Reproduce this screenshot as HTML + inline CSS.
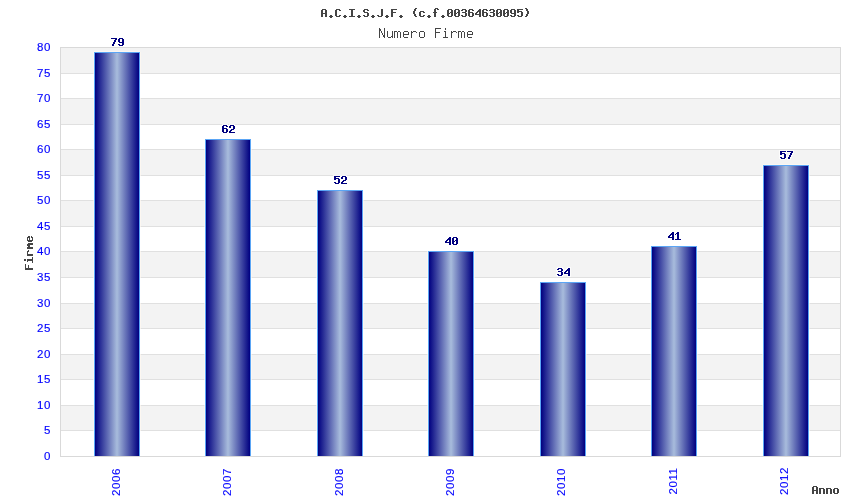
<!DOCTYPE html>
<html><head><meta charset="utf-8"><style>
html,body{margin:0;padding:0;background:#fff;}
body{width:850px;height:500px;overflow:hidden;position:relative;}
svg{position:absolute;left:0;top:0;}
.t{position:absolute;white-space:pre;line-height:1;}
.sans{font-family:"Liberation Sans",sans-serif;will-change:transform;color:#00f;-webkit-text-stroke:0.15px #00f;}
</style></head><body>
<svg width="850" height="500" viewBox="0 0 850 500" shape-rendering="crispEdges">
<defs><linearGradient id="g" x1="0" y1="0" x2="1" y2="0">
<stop offset="0" stop-color="#000080"/><stop offset="0.5" stop-color="#a8bcdc"/><stop offset="1" stop-color="#000080"/>
</linearGradient></defs>
<rect x="0" y="0" width="850" height="500" fill="#fff"/>
<rect x="61" y="405" width="779" height="25" fill="#f3f3f3"/>
<rect x="61" y="354" width="779" height="25" fill="#f3f3f3"/>
<rect x="61" y="303" width="779" height="25" fill="#f3f3f3"/>
<rect x="61" y="251" width="779" height="26" fill="#f3f3f3"/>
<rect x="61" y="200" width="779" height="26" fill="#f3f3f3"/>
<rect x="61" y="149" width="779" height="26" fill="#f3f3f3"/>
<rect x="61" y="98" width="779" height="26" fill="#f3f3f3"/>
<rect x="61" y="47" width="779" height="26" fill="#f3f3f3"/>
<rect x="61" y="430" width="779" height="1" fill="#e0e0e0"/>
<rect x="61" y="405" width="779" height="1" fill="#e0e0e0"/>
<rect x="61" y="379" width="779" height="1" fill="#e0e0e0"/>
<rect x="61" y="354" width="779" height="1" fill="#e0e0e0"/>
<rect x="61" y="328" width="779" height="1" fill="#e0e0e0"/>
<rect x="61" y="303" width="779" height="1" fill="#e0e0e0"/>
<rect x="61" y="277" width="779" height="1" fill="#e0e0e0"/>
<rect x="61" y="251" width="779" height="1" fill="#e0e0e0"/>
<rect x="61" y="226" width="779" height="1" fill="#e0e0e0"/>
<rect x="61" y="200" width="779" height="1" fill="#e0e0e0"/>
<rect x="61" y="175" width="779" height="1" fill="#e0e0e0"/>
<rect x="61" y="149" width="779" height="1" fill="#e0e0e0"/>
<rect x="61" y="124" width="779" height="1" fill="#e0e0e0"/>
<rect x="61" y="98" width="779" height="1" fill="#e0e0e0"/>
<rect x="61" y="73" width="779" height="1" fill="#e0e0e0"/>
<rect x="60" y="47" width="781" height="1" fill="#d9d9d9"/>
<rect x="60" y="456" width="781" height="1" fill="#d9d9d9"/>
<rect x="60" y="47" width="1" height="410" fill="#d9d9d9"/>
<rect x="840" y="47" width="1" height="410" fill="#d9d9d9"/>
<path fill="#fcf7f1" d="M94 51h46v1h-46zM93 52h1v1h-1zM140 52h1v1h-1zM93 53h1v1h-1zM140 53h1v1h-1zM93 54h1v1h-1zM140 54h1v1h-1zM93 55h1v1h-1zM140 55h1v1h-1zM93 56h1v1h-1zM140 56h1v1h-1zM93 57h1v1h-1zM140 57h1v1h-1zM93 58h1v1h-1zM140 58h1v1h-1zM93 59h1v1h-1zM140 59h1v1h-1zM93 60h1v1h-1zM140 60h1v1h-1zM93 61h1v1h-1zM140 61h1v1h-1zM93 62h1v1h-1zM140 62h1v1h-1zM93 63h1v1h-1zM140 63h1v1h-1zM93 64h1v1h-1zM140 64h1v1h-1zM93 65h1v1h-1zM140 65h1v1h-1zM93 66h1v1h-1zM140 66h1v1h-1zM93 67h1v1h-1zM140 67h1v1h-1zM93 68h1v1h-1zM140 68h1v1h-1zM93 69h1v1h-1zM140 69h1v1h-1zM93 70h1v1h-1zM140 70h1v1h-1zM93 71h1v1h-1zM140 71h1v1h-1zM93 72h1v1h-1zM140 72h1v1h-1zM93 99h1v1h-1zM140 99h1v1h-1zM93 100h1v1h-1zM140 100h1v1h-1zM93 101h1v1h-1zM140 101h1v1h-1zM93 102h1v1h-1zM140 102h1v1h-1zM93 103h1v1h-1zM140 103h1v1h-1zM93 104h1v1h-1zM140 104h1v1h-1zM93 105h1v1h-1zM140 105h1v1h-1zM93 106h1v1h-1zM140 106h1v1h-1zM93 107h1v1h-1zM140 107h1v1h-1zM93 108h1v1h-1zM140 108h1v1h-1zM93 109h1v1h-1zM140 109h1v1h-1zM93 110h1v1h-1zM140 110h1v1h-1zM93 111h1v1h-1zM140 111h1v1h-1zM93 112h1v1h-1zM140 112h1v1h-1zM93 113h1v1h-1zM140 113h1v1h-1zM93 114h1v1h-1zM140 114h1v1h-1zM93 115h1v1h-1zM140 115h1v1h-1zM93 116h1v1h-1zM140 116h1v1h-1zM93 117h1v1h-1zM140 117h1v1h-1zM93 118h1v1h-1zM140 118h1v1h-1zM93 119h1v1h-1zM140 119h1v1h-1zM93 120h1v1h-1zM140 120h1v1h-1zM93 121h1v1h-1zM140 121h1v1h-1zM93 122h1v1h-1zM140 122h1v1h-1zM93 123h1v1h-1zM140 123h1v1h-1zM93 150h1v1h-1zM140 150h1v1h-1zM93 151h1v1h-1zM140 151h1v1h-1zM93 152h1v1h-1zM140 152h1v1h-1zM93 153h1v1h-1zM140 153h1v1h-1zM93 154h1v1h-1zM140 154h1v1h-1zM93 155h1v1h-1zM140 155h1v1h-1zM93 156h1v1h-1zM140 156h1v1h-1zM93 157h1v1h-1zM140 157h1v1h-1zM93 158h1v1h-1zM140 158h1v1h-1zM93 159h1v1h-1zM140 159h1v1h-1zM93 160h1v1h-1zM140 160h1v1h-1zM93 161h1v1h-1zM140 161h1v1h-1zM93 162h1v1h-1zM140 162h1v1h-1zM93 163h1v1h-1zM140 163h1v1h-1zM93 164h1v1h-1zM140 164h1v1h-1zM93 165h1v1h-1zM140 165h1v1h-1zM93 166h1v1h-1zM140 166h1v1h-1zM93 167h1v1h-1zM140 167h1v1h-1zM93 168h1v1h-1zM140 168h1v1h-1zM93 169h1v1h-1zM140 169h1v1h-1zM93 170h1v1h-1zM140 170h1v1h-1zM93 171h1v1h-1zM140 171h1v1h-1zM93 172h1v1h-1zM140 172h1v1h-1zM93 173h1v1h-1zM140 173h1v1h-1zM93 174h1v1h-1zM140 174h1v1h-1zM93 201h1v1h-1zM140 201h1v1h-1zM93 202h1v1h-1zM140 202h1v1h-1zM93 203h1v1h-1zM140 203h1v1h-1zM93 204h1v1h-1zM140 204h1v1h-1zM93 205h1v1h-1zM140 205h1v1h-1zM93 206h1v1h-1zM140 206h1v1h-1zM93 207h1v1h-1zM140 207h1v1h-1zM93 208h1v1h-1zM140 208h1v1h-1zM93 209h1v1h-1zM140 209h1v1h-1zM93 210h1v1h-1zM140 210h1v1h-1zM93 211h1v1h-1zM140 211h1v1h-1zM93 212h1v1h-1zM140 212h1v1h-1zM93 213h1v1h-1zM140 213h1v1h-1zM93 214h1v1h-1zM140 214h1v1h-1zM93 215h1v1h-1zM140 215h1v1h-1zM93 216h1v1h-1zM140 216h1v1h-1zM93 217h1v1h-1zM140 217h1v1h-1zM93 218h1v1h-1zM140 218h1v1h-1zM93 219h1v1h-1zM140 219h1v1h-1zM93 220h1v1h-1zM140 220h1v1h-1zM93 221h1v1h-1zM140 221h1v1h-1zM93 222h1v1h-1zM140 222h1v1h-1zM93 223h1v1h-1zM140 223h1v1h-1zM93 224h1v1h-1zM140 224h1v1h-1zM93 225h1v1h-1zM140 225h1v1h-1zM93 252h1v1h-1zM140 252h1v1h-1zM93 253h1v1h-1zM140 253h1v1h-1zM93 254h1v1h-1zM140 254h1v1h-1zM93 255h1v1h-1zM140 255h1v1h-1zM93 256h1v1h-1zM140 256h1v1h-1zM93 257h1v1h-1zM140 257h1v1h-1zM93 258h1v1h-1zM140 258h1v1h-1zM93 259h1v1h-1zM140 259h1v1h-1zM93 260h1v1h-1zM140 260h1v1h-1zM93 261h1v1h-1zM140 261h1v1h-1zM93 262h1v1h-1zM140 262h1v1h-1zM93 263h1v1h-1zM140 263h1v1h-1zM93 264h1v1h-1zM140 264h1v1h-1zM93 265h1v1h-1zM140 265h1v1h-1zM93 266h1v1h-1zM140 266h1v1h-1zM93 267h1v1h-1zM140 267h1v1h-1zM93 268h1v1h-1zM140 268h1v1h-1zM93 269h1v1h-1zM140 269h1v1h-1zM93 270h1v1h-1zM140 270h1v1h-1zM93 271h1v1h-1zM140 271h1v1h-1zM93 272h1v1h-1zM140 272h1v1h-1zM93 273h1v1h-1zM140 273h1v1h-1zM93 274h1v1h-1zM140 274h1v1h-1zM93 275h1v1h-1zM140 275h1v1h-1zM93 276h1v1h-1zM140 276h1v1h-1zM93 304h1v1h-1zM140 304h1v1h-1zM93 305h1v1h-1zM140 305h1v1h-1zM93 306h1v1h-1zM140 306h1v1h-1zM93 307h1v1h-1zM140 307h1v1h-1zM93 308h1v1h-1zM140 308h1v1h-1zM93 309h1v1h-1zM140 309h1v1h-1zM93 310h1v1h-1zM140 310h1v1h-1zM93 311h1v1h-1zM140 311h1v1h-1zM93 312h1v1h-1zM140 312h1v1h-1zM93 313h1v1h-1zM140 313h1v1h-1zM93 314h1v1h-1zM140 314h1v1h-1zM93 315h1v1h-1zM140 315h1v1h-1zM93 316h1v1h-1zM140 316h1v1h-1zM93 317h1v1h-1zM140 317h1v1h-1zM93 318h1v1h-1zM140 318h1v1h-1zM93 319h1v1h-1zM140 319h1v1h-1zM93 320h1v1h-1zM140 320h1v1h-1zM93 321h1v1h-1zM140 321h1v1h-1zM93 322h1v1h-1zM140 322h1v1h-1zM93 323h1v1h-1zM140 323h1v1h-1zM93 324h1v1h-1zM140 324h1v1h-1zM93 325h1v1h-1zM140 325h1v1h-1zM93 326h1v1h-1zM140 326h1v1h-1zM93 327h1v1h-1zM140 327h1v1h-1zM93 355h1v1h-1zM140 355h1v1h-1zM93 356h1v1h-1zM140 356h1v1h-1zM93 357h1v1h-1zM140 357h1v1h-1zM93 358h1v1h-1zM140 358h1v1h-1zM93 359h1v1h-1zM140 359h1v1h-1zM93 360h1v1h-1zM140 360h1v1h-1zM93 361h1v1h-1zM140 361h1v1h-1zM93 362h1v1h-1zM140 362h1v1h-1zM93 363h1v1h-1zM140 363h1v1h-1zM93 364h1v1h-1zM140 364h1v1h-1zM93 365h1v1h-1zM140 365h1v1h-1zM93 366h1v1h-1zM140 366h1v1h-1zM93 367h1v1h-1zM140 367h1v1h-1zM93 368h1v1h-1zM140 368h1v1h-1zM93 369h1v1h-1zM140 369h1v1h-1zM93 370h1v1h-1zM140 370h1v1h-1zM93 371h1v1h-1zM140 371h1v1h-1zM93 372h1v1h-1zM140 372h1v1h-1zM93 373h1v1h-1zM140 373h1v1h-1zM93 374h1v1h-1zM140 374h1v1h-1zM93 375h1v1h-1zM140 375h1v1h-1zM93 376h1v1h-1zM140 376h1v1h-1zM93 377h1v1h-1zM140 377h1v1h-1zM93 378h1v1h-1zM140 378h1v1h-1zM93 406h1v1h-1zM140 406h1v1h-1zM93 407h1v1h-1zM140 407h1v1h-1zM93 408h1v1h-1zM140 408h1v1h-1zM93 409h1v1h-1zM140 409h1v1h-1zM93 410h1v1h-1zM140 410h1v1h-1zM93 411h1v1h-1zM140 411h1v1h-1zM93 412h1v1h-1zM140 412h1v1h-1zM93 413h1v1h-1zM140 413h1v1h-1zM93 414h1v1h-1zM140 414h1v1h-1zM93 415h1v1h-1zM140 415h1v1h-1zM93 416h1v1h-1zM140 416h1v1h-1zM93 417h1v1h-1zM140 417h1v1h-1zM93 418h1v1h-1zM140 418h1v1h-1zM93 419h1v1h-1zM140 419h1v1h-1zM93 420h1v1h-1zM140 420h1v1h-1zM93 421h1v1h-1zM140 421h1v1h-1zM93 422h1v1h-1zM140 422h1v1h-1zM93 423h1v1h-1zM140 423h1v1h-1zM93 424h1v1h-1zM140 424h1v1h-1zM93 425h1v1h-1zM140 425h1v1h-1zM93 426h1v1h-1zM140 426h1v1h-1zM93 427h1v1h-1zM140 427h1v1h-1zM93 428h1v1h-1zM140 428h1v1h-1zM93 429h1v1h-1zM140 429h1v1h-1z"/>
<path fill="#f5f1ec" d="M93 73h1v1h-1zM140 73h1v1h-1zM93 98h1v1h-1zM140 98h1v1h-1zM93 124h1v1h-1zM140 124h1v1h-1zM93 149h1v1h-1zM140 149h1v1h-1zM93 175h1v1h-1zM140 175h1v1h-1zM93 200h1v1h-1zM140 200h1v1h-1zM93 226h1v1h-1zM140 226h1v1h-1zM93 251h1v1h-1zM140 251h1v1h-1zM93 277h1v1h-1zM140 277h1v1h-1zM93 303h1v1h-1zM140 303h1v1h-1zM93 328h1v1h-1zM140 328h1v1h-1zM93 354h1v1h-1zM140 354h1v1h-1zM93 379h1v1h-1zM140 379h1v1h-1zM93 405h1v1h-1zM140 405h1v1h-1zM93 430h1v1h-1zM140 430h1v1h-1z"/>
<rect x="94" y="52" width="46" height="404" fill="#5aa5f5"/>
<rect x="95" y="53" width="44" height="403" fill="url(#g)"/>
<path fill="#fcf7f1" d="M204 150h1v1h-1zM251 150h1v1h-1zM204 151h1v1h-1zM251 151h1v1h-1zM204 152h1v1h-1zM251 152h1v1h-1zM204 153h1v1h-1zM251 153h1v1h-1zM204 154h1v1h-1zM251 154h1v1h-1zM204 155h1v1h-1zM251 155h1v1h-1zM204 156h1v1h-1zM251 156h1v1h-1zM204 157h1v1h-1zM251 157h1v1h-1zM204 158h1v1h-1zM251 158h1v1h-1zM204 159h1v1h-1zM251 159h1v1h-1zM204 160h1v1h-1zM251 160h1v1h-1zM204 161h1v1h-1zM251 161h1v1h-1zM204 162h1v1h-1zM251 162h1v1h-1zM204 163h1v1h-1zM251 163h1v1h-1zM204 164h1v1h-1zM251 164h1v1h-1zM204 165h1v1h-1zM251 165h1v1h-1zM204 166h1v1h-1zM251 166h1v1h-1zM204 167h1v1h-1zM251 167h1v1h-1zM204 168h1v1h-1zM251 168h1v1h-1zM204 169h1v1h-1zM251 169h1v1h-1zM204 170h1v1h-1zM251 170h1v1h-1zM204 171h1v1h-1zM251 171h1v1h-1zM204 172h1v1h-1zM251 172h1v1h-1zM204 173h1v1h-1zM251 173h1v1h-1zM204 174h1v1h-1zM251 174h1v1h-1zM204 201h1v1h-1zM251 201h1v1h-1zM204 202h1v1h-1zM251 202h1v1h-1zM204 203h1v1h-1zM251 203h1v1h-1zM204 204h1v1h-1zM251 204h1v1h-1zM204 205h1v1h-1zM251 205h1v1h-1zM204 206h1v1h-1zM251 206h1v1h-1zM204 207h1v1h-1zM251 207h1v1h-1zM204 208h1v1h-1zM251 208h1v1h-1zM204 209h1v1h-1zM251 209h1v1h-1zM204 210h1v1h-1zM251 210h1v1h-1zM204 211h1v1h-1zM251 211h1v1h-1zM204 212h1v1h-1zM251 212h1v1h-1zM204 213h1v1h-1zM251 213h1v1h-1zM204 214h1v1h-1zM251 214h1v1h-1zM204 215h1v1h-1zM251 215h1v1h-1zM204 216h1v1h-1zM251 216h1v1h-1zM204 217h1v1h-1zM251 217h1v1h-1zM204 218h1v1h-1zM251 218h1v1h-1zM204 219h1v1h-1zM251 219h1v1h-1zM204 220h1v1h-1zM251 220h1v1h-1zM204 221h1v1h-1zM251 221h1v1h-1zM204 222h1v1h-1zM251 222h1v1h-1zM204 223h1v1h-1zM251 223h1v1h-1zM204 224h1v1h-1zM251 224h1v1h-1zM204 225h1v1h-1zM251 225h1v1h-1zM204 252h1v1h-1zM251 252h1v1h-1zM204 253h1v1h-1zM251 253h1v1h-1zM204 254h1v1h-1zM251 254h1v1h-1zM204 255h1v1h-1zM251 255h1v1h-1zM204 256h1v1h-1zM251 256h1v1h-1zM204 257h1v1h-1zM251 257h1v1h-1zM204 258h1v1h-1zM251 258h1v1h-1zM204 259h1v1h-1zM251 259h1v1h-1zM204 260h1v1h-1zM251 260h1v1h-1zM204 261h1v1h-1zM251 261h1v1h-1zM204 262h1v1h-1zM251 262h1v1h-1zM204 263h1v1h-1zM251 263h1v1h-1zM204 264h1v1h-1zM251 264h1v1h-1zM204 265h1v1h-1zM251 265h1v1h-1zM204 266h1v1h-1zM251 266h1v1h-1zM204 267h1v1h-1zM251 267h1v1h-1zM204 268h1v1h-1zM251 268h1v1h-1zM204 269h1v1h-1zM251 269h1v1h-1zM204 270h1v1h-1zM251 270h1v1h-1zM204 271h1v1h-1zM251 271h1v1h-1zM204 272h1v1h-1zM251 272h1v1h-1zM204 273h1v1h-1zM251 273h1v1h-1zM204 274h1v1h-1zM251 274h1v1h-1zM204 275h1v1h-1zM251 275h1v1h-1zM204 276h1v1h-1zM251 276h1v1h-1zM204 304h1v1h-1zM251 304h1v1h-1zM204 305h1v1h-1zM251 305h1v1h-1zM204 306h1v1h-1zM251 306h1v1h-1zM204 307h1v1h-1zM251 307h1v1h-1zM204 308h1v1h-1zM251 308h1v1h-1zM204 309h1v1h-1zM251 309h1v1h-1zM204 310h1v1h-1zM251 310h1v1h-1zM204 311h1v1h-1zM251 311h1v1h-1zM204 312h1v1h-1zM251 312h1v1h-1zM204 313h1v1h-1zM251 313h1v1h-1zM204 314h1v1h-1zM251 314h1v1h-1zM204 315h1v1h-1zM251 315h1v1h-1zM204 316h1v1h-1zM251 316h1v1h-1zM204 317h1v1h-1zM251 317h1v1h-1zM204 318h1v1h-1zM251 318h1v1h-1zM204 319h1v1h-1zM251 319h1v1h-1zM204 320h1v1h-1zM251 320h1v1h-1zM204 321h1v1h-1zM251 321h1v1h-1zM204 322h1v1h-1zM251 322h1v1h-1zM204 323h1v1h-1zM251 323h1v1h-1zM204 324h1v1h-1zM251 324h1v1h-1zM204 325h1v1h-1zM251 325h1v1h-1zM204 326h1v1h-1zM251 326h1v1h-1zM204 327h1v1h-1zM251 327h1v1h-1zM204 355h1v1h-1zM251 355h1v1h-1zM204 356h1v1h-1zM251 356h1v1h-1zM204 357h1v1h-1zM251 357h1v1h-1zM204 358h1v1h-1zM251 358h1v1h-1zM204 359h1v1h-1zM251 359h1v1h-1zM204 360h1v1h-1zM251 360h1v1h-1zM204 361h1v1h-1zM251 361h1v1h-1zM204 362h1v1h-1zM251 362h1v1h-1zM204 363h1v1h-1zM251 363h1v1h-1zM204 364h1v1h-1zM251 364h1v1h-1zM204 365h1v1h-1zM251 365h1v1h-1zM204 366h1v1h-1zM251 366h1v1h-1zM204 367h1v1h-1zM251 367h1v1h-1zM204 368h1v1h-1zM251 368h1v1h-1zM204 369h1v1h-1zM251 369h1v1h-1zM204 370h1v1h-1zM251 370h1v1h-1zM204 371h1v1h-1zM251 371h1v1h-1zM204 372h1v1h-1zM251 372h1v1h-1zM204 373h1v1h-1zM251 373h1v1h-1zM204 374h1v1h-1zM251 374h1v1h-1zM204 375h1v1h-1zM251 375h1v1h-1zM204 376h1v1h-1zM251 376h1v1h-1zM204 377h1v1h-1zM251 377h1v1h-1zM204 378h1v1h-1zM251 378h1v1h-1zM204 406h1v1h-1zM251 406h1v1h-1zM204 407h1v1h-1zM251 407h1v1h-1zM204 408h1v1h-1zM251 408h1v1h-1zM204 409h1v1h-1zM251 409h1v1h-1zM204 410h1v1h-1zM251 410h1v1h-1zM204 411h1v1h-1zM251 411h1v1h-1zM204 412h1v1h-1zM251 412h1v1h-1zM204 413h1v1h-1zM251 413h1v1h-1zM204 414h1v1h-1zM251 414h1v1h-1zM204 415h1v1h-1zM251 415h1v1h-1zM204 416h1v1h-1zM251 416h1v1h-1zM204 417h1v1h-1zM251 417h1v1h-1zM204 418h1v1h-1zM251 418h1v1h-1zM204 419h1v1h-1zM251 419h1v1h-1zM204 420h1v1h-1zM251 420h1v1h-1zM204 421h1v1h-1zM251 421h1v1h-1zM204 422h1v1h-1zM251 422h1v1h-1zM204 423h1v1h-1zM251 423h1v1h-1zM204 424h1v1h-1zM251 424h1v1h-1zM204 425h1v1h-1zM251 425h1v1h-1zM204 426h1v1h-1zM251 426h1v1h-1zM204 427h1v1h-1zM251 427h1v1h-1zM204 428h1v1h-1zM251 428h1v1h-1zM204 429h1v1h-1zM251 429h1v1h-1z"/>
<path fill="#f5f1ec" d="M204 149h1v1h-1zM251 149h1v1h-1zM204 175h1v1h-1zM251 175h1v1h-1zM204 200h1v1h-1zM251 200h1v1h-1zM204 226h1v1h-1zM251 226h1v1h-1zM204 251h1v1h-1zM251 251h1v1h-1zM204 277h1v1h-1zM251 277h1v1h-1zM204 303h1v1h-1zM251 303h1v1h-1zM204 328h1v1h-1zM251 328h1v1h-1zM204 354h1v1h-1zM251 354h1v1h-1zM204 379h1v1h-1zM251 379h1v1h-1zM204 405h1v1h-1zM251 405h1v1h-1zM204 430h1v1h-1zM251 430h1v1h-1z"/>
<rect x="205" y="139" width="46" height="317" fill="#5aa5f5"/>
<rect x="206" y="140" width="44" height="316" fill="url(#g)"/>
<path fill="#fcf7f1" d="M316 201h1v1h-1zM363 201h1v1h-1zM316 202h1v1h-1zM363 202h1v1h-1zM316 203h1v1h-1zM363 203h1v1h-1zM316 204h1v1h-1zM363 204h1v1h-1zM316 205h1v1h-1zM363 205h1v1h-1zM316 206h1v1h-1zM363 206h1v1h-1zM316 207h1v1h-1zM363 207h1v1h-1zM316 208h1v1h-1zM363 208h1v1h-1zM316 209h1v1h-1zM363 209h1v1h-1zM316 210h1v1h-1zM363 210h1v1h-1zM316 211h1v1h-1zM363 211h1v1h-1zM316 212h1v1h-1zM363 212h1v1h-1zM316 213h1v1h-1zM363 213h1v1h-1zM316 214h1v1h-1zM363 214h1v1h-1zM316 215h1v1h-1zM363 215h1v1h-1zM316 216h1v1h-1zM363 216h1v1h-1zM316 217h1v1h-1zM363 217h1v1h-1zM316 218h1v1h-1zM363 218h1v1h-1zM316 219h1v1h-1zM363 219h1v1h-1zM316 220h1v1h-1zM363 220h1v1h-1zM316 221h1v1h-1zM363 221h1v1h-1zM316 222h1v1h-1zM363 222h1v1h-1zM316 223h1v1h-1zM363 223h1v1h-1zM316 224h1v1h-1zM363 224h1v1h-1zM316 225h1v1h-1zM363 225h1v1h-1zM316 252h1v1h-1zM363 252h1v1h-1zM316 253h1v1h-1zM363 253h1v1h-1zM316 254h1v1h-1zM363 254h1v1h-1zM316 255h1v1h-1zM363 255h1v1h-1zM316 256h1v1h-1zM363 256h1v1h-1zM316 257h1v1h-1zM363 257h1v1h-1zM316 258h1v1h-1zM363 258h1v1h-1zM316 259h1v1h-1zM363 259h1v1h-1zM316 260h1v1h-1zM363 260h1v1h-1zM316 261h1v1h-1zM363 261h1v1h-1zM316 262h1v1h-1zM363 262h1v1h-1zM316 263h1v1h-1zM363 263h1v1h-1zM316 264h1v1h-1zM363 264h1v1h-1zM316 265h1v1h-1zM363 265h1v1h-1zM316 266h1v1h-1zM363 266h1v1h-1zM316 267h1v1h-1zM363 267h1v1h-1zM316 268h1v1h-1zM363 268h1v1h-1zM316 269h1v1h-1zM363 269h1v1h-1zM316 270h1v1h-1zM363 270h1v1h-1zM316 271h1v1h-1zM363 271h1v1h-1zM316 272h1v1h-1zM363 272h1v1h-1zM316 273h1v1h-1zM363 273h1v1h-1zM316 274h1v1h-1zM363 274h1v1h-1zM316 275h1v1h-1zM363 275h1v1h-1zM316 276h1v1h-1zM363 276h1v1h-1zM316 304h1v1h-1zM363 304h1v1h-1zM316 305h1v1h-1zM363 305h1v1h-1zM316 306h1v1h-1zM363 306h1v1h-1zM316 307h1v1h-1zM363 307h1v1h-1zM316 308h1v1h-1zM363 308h1v1h-1zM316 309h1v1h-1zM363 309h1v1h-1zM316 310h1v1h-1zM363 310h1v1h-1zM316 311h1v1h-1zM363 311h1v1h-1zM316 312h1v1h-1zM363 312h1v1h-1zM316 313h1v1h-1zM363 313h1v1h-1zM316 314h1v1h-1zM363 314h1v1h-1zM316 315h1v1h-1zM363 315h1v1h-1zM316 316h1v1h-1zM363 316h1v1h-1zM316 317h1v1h-1zM363 317h1v1h-1zM316 318h1v1h-1zM363 318h1v1h-1zM316 319h1v1h-1zM363 319h1v1h-1zM316 320h1v1h-1zM363 320h1v1h-1zM316 321h1v1h-1zM363 321h1v1h-1zM316 322h1v1h-1zM363 322h1v1h-1zM316 323h1v1h-1zM363 323h1v1h-1zM316 324h1v1h-1zM363 324h1v1h-1zM316 325h1v1h-1zM363 325h1v1h-1zM316 326h1v1h-1zM363 326h1v1h-1zM316 327h1v1h-1zM363 327h1v1h-1zM316 355h1v1h-1zM363 355h1v1h-1zM316 356h1v1h-1zM363 356h1v1h-1zM316 357h1v1h-1zM363 357h1v1h-1zM316 358h1v1h-1zM363 358h1v1h-1zM316 359h1v1h-1zM363 359h1v1h-1zM316 360h1v1h-1zM363 360h1v1h-1zM316 361h1v1h-1zM363 361h1v1h-1zM316 362h1v1h-1zM363 362h1v1h-1zM316 363h1v1h-1zM363 363h1v1h-1zM316 364h1v1h-1zM363 364h1v1h-1zM316 365h1v1h-1zM363 365h1v1h-1zM316 366h1v1h-1zM363 366h1v1h-1zM316 367h1v1h-1zM363 367h1v1h-1zM316 368h1v1h-1zM363 368h1v1h-1zM316 369h1v1h-1zM363 369h1v1h-1zM316 370h1v1h-1zM363 370h1v1h-1zM316 371h1v1h-1zM363 371h1v1h-1zM316 372h1v1h-1zM363 372h1v1h-1zM316 373h1v1h-1zM363 373h1v1h-1zM316 374h1v1h-1zM363 374h1v1h-1zM316 375h1v1h-1zM363 375h1v1h-1zM316 376h1v1h-1zM363 376h1v1h-1zM316 377h1v1h-1zM363 377h1v1h-1zM316 378h1v1h-1zM363 378h1v1h-1zM316 406h1v1h-1zM363 406h1v1h-1zM316 407h1v1h-1zM363 407h1v1h-1zM316 408h1v1h-1zM363 408h1v1h-1zM316 409h1v1h-1zM363 409h1v1h-1zM316 410h1v1h-1zM363 410h1v1h-1zM316 411h1v1h-1zM363 411h1v1h-1zM316 412h1v1h-1zM363 412h1v1h-1zM316 413h1v1h-1zM363 413h1v1h-1zM316 414h1v1h-1zM363 414h1v1h-1zM316 415h1v1h-1zM363 415h1v1h-1zM316 416h1v1h-1zM363 416h1v1h-1zM316 417h1v1h-1zM363 417h1v1h-1zM316 418h1v1h-1zM363 418h1v1h-1zM316 419h1v1h-1zM363 419h1v1h-1zM316 420h1v1h-1zM363 420h1v1h-1zM316 421h1v1h-1zM363 421h1v1h-1zM316 422h1v1h-1zM363 422h1v1h-1zM316 423h1v1h-1zM363 423h1v1h-1zM316 424h1v1h-1zM363 424h1v1h-1zM316 425h1v1h-1zM363 425h1v1h-1zM316 426h1v1h-1zM363 426h1v1h-1zM316 427h1v1h-1zM363 427h1v1h-1zM316 428h1v1h-1zM363 428h1v1h-1zM316 429h1v1h-1zM363 429h1v1h-1z"/>
<path fill="#f5f1ec" d="M316 200h1v1h-1zM363 200h1v1h-1zM316 226h1v1h-1zM363 226h1v1h-1zM316 251h1v1h-1zM363 251h1v1h-1zM316 277h1v1h-1zM363 277h1v1h-1zM316 303h1v1h-1zM363 303h1v1h-1zM316 328h1v1h-1zM363 328h1v1h-1zM316 354h1v1h-1zM363 354h1v1h-1zM316 379h1v1h-1zM363 379h1v1h-1zM316 405h1v1h-1zM363 405h1v1h-1zM316 430h1v1h-1zM363 430h1v1h-1z"/>
<rect x="317" y="190" width="46" height="266" fill="#5aa5f5"/>
<rect x="318" y="191" width="44" height="265" fill="url(#g)"/>
<path fill="#fcf7f1" d="M427 252h1v1h-1zM474 252h1v1h-1zM427 253h1v1h-1zM474 253h1v1h-1zM427 254h1v1h-1zM474 254h1v1h-1zM427 255h1v1h-1zM474 255h1v1h-1zM427 256h1v1h-1zM474 256h1v1h-1zM427 257h1v1h-1zM474 257h1v1h-1zM427 258h1v1h-1zM474 258h1v1h-1zM427 259h1v1h-1zM474 259h1v1h-1zM427 260h1v1h-1zM474 260h1v1h-1zM427 261h1v1h-1zM474 261h1v1h-1zM427 262h1v1h-1zM474 262h1v1h-1zM427 263h1v1h-1zM474 263h1v1h-1zM427 264h1v1h-1zM474 264h1v1h-1zM427 265h1v1h-1zM474 265h1v1h-1zM427 266h1v1h-1zM474 266h1v1h-1zM427 267h1v1h-1zM474 267h1v1h-1zM427 268h1v1h-1zM474 268h1v1h-1zM427 269h1v1h-1zM474 269h1v1h-1zM427 270h1v1h-1zM474 270h1v1h-1zM427 271h1v1h-1zM474 271h1v1h-1zM427 272h1v1h-1zM474 272h1v1h-1zM427 273h1v1h-1zM474 273h1v1h-1zM427 274h1v1h-1zM474 274h1v1h-1zM427 275h1v1h-1zM474 275h1v1h-1zM427 276h1v1h-1zM474 276h1v1h-1zM427 304h1v1h-1zM474 304h1v1h-1zM427 305h1v1h-1zM474 305h1v1h-1zM427 306h1v1h-1zM474 306h1v1h-1zM427 307h1v1h-1zM474 307h1v1h-1zM427 308h1v1h-1zM474 308h1v1h-1zM427 309h1v1h-1zM474 309h1v1h-1zM427 310h1v1h-1zM474 310h1v1h-1zM427 311h1v1h-1zM474 311h1v1h-1zM427 312h1v1h-1zM474 312h1v1h-1zM427 313h1v1h-1zM474 313h1v1h-1zM427 314h1v1h-1zM474 314h1v1h-1zM427 315h1v1h-1zM474 315h1v1h-1zM427 316h1v1h-1zM474 316h1v1h-1zM427 317h1v1h-1zM474 317h1v1h-1zM427 318h1v1h-1zM474 318h1v1h-1zM427 319h1v1h-1zM474 319h1v1h-1zM427 320h1v1h-1zM474 320h1v1h-1zM427 321h1v1h-1zM474 321h1v1h-1zM427 322h1v1h-1zM474 322h1v1h-1zM427 323h1v1h-1zM474 323h1v1h-1zM427 324h1v1h-1zM474 324h1v1h-1zM427 325h1v1h-1zM474 325h1v1h-1zM427 326h1v1h-1zM474 326h1v1h-1zM427 327h1v1h-1zM474 327h1v1h-1zM427 355h1v1h-1zM474 355h1v1h-1zM427 356h1v1h-1zM474 356h1v1h-1zM427 357h1v1h-1zM474 357h1v1h-1zM427 358h1v1h-1zM474 358h1v1h-1zM427 359h1v1h-1zM474 359h1v1h-1zM427 360h1v1h-1zM474 360h1v1h-1zM427 361h1v1h-1zM474 361h1v1h-1zM427 362h1v1h-1zM474 362h1v1h-1zM427 363h1v1h-1zM474 363h1v1h-1zM427 364h1v1h-1zM474 364h1v1h-1zM427 365h1v1h-1zM474 365h1v1h-1zM427 366h1v1h-1zM474 366h1v1h-1zM427 367h1v1h-1zM474 367h1v1h-1zM427 368h1v1h-1zM474 368h1v1h-1zM427 369h1v1h-1zM474 369h1v1h-1zM427 370h1v1h-1zM474 370h1v1h-1zM427 371h1v1h-1zM474 371h1v1h-1zM427 372h1v1h-1zM474 372h1v1h-1zM427 373h1v1h-1zM474 373h1v1h-1zM427 374h1v1h-1zM474 374h1v1h-1zM427 375h1v1h-1zM474 375h1v1h-1zM427 376h1v1h-1zM474 376h1v1h-1zM427 377h1v1h-1zM474 377h1v1h-1zM427 378h1v1h-1zM474 378h1v1h-1zM427 406h1v1h-1zM474 406h1v1h-1zM427 407h1v1h-1zM474 407h1v1h-1zM427 408h1v1h-1zM474 408h1v1h-1zM427 409h1v1h-1zM474 409h1v1h-1zM427 410h1v1h-1zM474 410h1v1h-1zM427 411h1v1h-1zM474 411h1v1h-1zM427 412h1v1h-1zM474 412h1v1h-1zM427 413h1v1h-1zM474 413h1v1h-1zM427 414h1v1h-1zM474 414h1v1h-1zM427 415h1v1h-1zM474 415h1v1h-1zM427 416h1v1h-1zM474 416h1v1h-1zM427 417h1v1h-1zM474 417h1v1h-1zM427 418h1v1h-1zM474 418h1v1h-1zM427 419h1v1h-1zM474 419h1v1h-1zM427 420h1v1h-1zM474 420h1v1h-1zM427 421h1v1h-1zM474 421h1v1h-1zM427 422h1v1h-1zM474 422h1v1h-1zM427 423h1v1h-1zM474 423h1v1h-1zM427 424h1v1h-1zM474 424h1v1h-1zM427 425h1v1h-1zM474 425h1v1h-1zM427 426h1v1h-1zM474 426h1v1h-1zM427 427h1v1h-1zM474 427h1v1h-1zM427 428h1v1h-1zM474 428h1v1h-1zM427 429h1v1h-1zM474 429h1v1h-1z"/>
<path fill="#f5f1ec" d="M427 251h1v1h-1zM474 251h1v1h-1zM427 277h1v1h-1zM474 277h1v1h-1zM427 303h1v1h-1zM474 303h1v1h-1zM427 328h1v1h-1zM474 328h1v1h-1zM427 354h1v1h-1zM474 354h1v1h-1zM427 379h1v1h-1zM474 379h1v1h-1zM427 405h1v1h-1zM474 405h1v1h-1zM427 430h1v1h-1zM474 430h1v1h-1z"/>
<rect x="428" y="251" width="46" height="205" fill="#5aa5f5"/>
<rect x="429" y="252" width="44" height="204" fill="url(#g)"/>
<path fill="#fcf7f1" d="M539 304h1v1h-1zM586 304h1v1h-1zM539 305h1v1h-1zM586 305h1v1h-1zM539 306h1v1h-1zM586 306h1v1h-1zM539 307h1v1h-1zM586 307h1v1h-1zM539 308h1v1h-1zM586 308h1v1h-1zM539 309h1v1h-1zM586 309h1v1h-1zM539 310h1v1h-1zM586 310h1v1h-1zM539 311h1v1h-1zM586 311h1v1h-1zM539 312h1v1h-1zM586 312h1v1h-1zM539 313h1v1h-1zM586 313h1v1h-1zM539 314h1v1h-1zM586 314h1v1h-1zM539 315h1v1h-1zM586 315h1v1h-1zM539 316h1v1h-1zM586 316h1v1h-1zM539 317h1v1h-1zM586 317h1v1h-1zM539 318h1v1h-1zM586 318h1v1h-1zM539 319h1v1h-1zM586 319h1v1h-1zM539 320h1v1h-1zM586 320h1v1h-1zM539 321h1v1h-1zM586 321h1v1h-1zM539 322h1v1h-1zM586 322h1v1h-1zM539 323h1v1h-1zM586 323h1v1h-1zM539 324h1v1h-1zM586 324h1v1h-1zM539 325h1v1h-1zM586 325h1v1h-1zM539 326h1v1h-1zM586 326h1v1h-1zM539 327h1v1h-1zM586 327h1v1h-1zM539 355h1v1h-1zM586 355h1v1h-1zM539 356h1v1h-1zM586 356h1v1h-1zM539 357h1v1h-1zM586 357h1v1h-1zM539 358h1v1h-1zM586 358h1v1h-1zM539 359h1v1h-1zM586 359h1v1h-1zM539 360h1v1h-1zM586 360h1v1h-1zM539 361h1v1h-1zM586 361h1v1h-1zM539 362h1v1h-1zM586 362h1v1h-1zM539 363h1v1h-1zM586 363h1v1h-1zM539 364h1v1h-1zM586 364h1v1h-1zM539 365h1v1h-1zM586 365h1v1h-1zM539 366h1v1h-1zM586 366h1v1h-1zM539 367h1v1h-1zM586 367h1v1h-1zM539 368h1v1h-1zM586 368h1v1h-1zM539 369h1v1h-1zM586 369h1v1h-1zM539 370h1v1h-1zM586 370h1v1h-1zM539 371h1v1h-1zM586 371h1v1h-1zM539 372h1v1h-1zM586 372h1v1h-1zM539 373h1v1h-1zM586 373h1v1h-1zM539 374h1v1h-1zM586 374h1v1h-1zM539 375h1v1h-1zM586 375h1v1h-1zM539 376h1v1h-1zM586 376h1v1h-1zM539 377h1v1h-1zM586 377h1v1h-1zM539 378h1v1h-1zM586 378h1v1h-1zM539 406h1v1h-1zM586 406h1v1h-1zM539 407h1v1h-1zM586 407h1v1h-1zM539 408h1v1h-1zM586 408h1v1h-1zM539 409h1v1h-1zM586 409h1v1h-1zM539 410h1v1h-1zM586 410h1v1h-1zM539 411h1v1h-1zM586 411h1v1h-1zM539 412h1v1h-1zM586 412h1v1h-1zM539 413h1v1h-1zM586 413h1v1h-1zM539 414h1v1h-1zM586 414h1v1h-1zM539 415h1v1h-1zM586 415h1v1h-1zM539 416h1v1h-1zM586 416h1v1h-1zM539 417h1v1h-1zM586 417h1v1h-1zM539 418h1v1h-1zM586 418h1v1h-1zM539 419h1v1h-1zM586 419h1v1h-1zM539 420h1v1h-1zM586 420h1v1h-1zM539 421h1v1h-1zM586 421h1v1h-1zM539 422h1v1h-1zM586 422h1v1h-1zM539 423h1v1h-1zM586 423h1v1h-1zM539 424h1v1h-1zM586 424h1v1h-1zM539 425h1v1h-1zM586 425h1v1h-1zM539 426h1v1h-1zM586 426h1v1h-1zM539 427h1v1h-1zM586 427h1v1h-1zM539 428h1v1h-1zM586 428h1v1h-1zM539 429h1v1h-1zM586 429h1v1h-1z"/>
<path fill="#f5f1ec" d="M539 303h1v1h-1zM586 303h1v1h-1zM539 328h1v1h-1zM586 328h1v1h-1zM539 354h1v1h-1zM586 354h1v1h-1zM539 379h1v1h-1zM586 379h1v1h-1zM539 405h1v1h-1zM586 405h1v1h-1zM539 430h1v1h-1zM586 430h1v1h-1z"/>
<rect x="540" y="282" width="46" height="174" fill="#5aa5f5"/>
<rect x="541" y="283" width="44" height="173" fill="url(#g)"/>
<path fill="#fcf7f1" d="M650 252h1v1h-1zM697 252h1v1h-1zM650 253h1v1h-1zM697 253h1v1h-1zM650 254h1v1h-1zM697 254h1v1h-1zM650 255h1v1h-1zM697 255h1v1h-1zM650 256h1v1h-1zM697 256h1v1h-1zM650 257h1v1h-1zM697 257h1v1h-1zM650 258h1v1h-1zM697 258h1v1h-1zM650 259h1v1h-1zM697 259h1v1h-1zM650 260h1v1h-1zM697 260h1v1h-1zM650 261h1v1h-1zM697 261h1v1h-1zM650 262h1v1h-1zM697 262h1v1h-1zM650 263h1v1h-1zM697 263h1v1h-1zM650 264h1v1h-1zM697 264h1v1h-1zM650 265h1v1h-1zM697 265h1v1h-1zM650 266h1v1h-1zM697 266h1v1h-1zM650 267h1v1h-1zM697 267h1v1h-1zM650 268h1v1h-1zM697 268h1v1h-1zM650 269h1v1h-1zM697 269h1v1h-1zM650 270h1v1h-1zM697 270h1v1h-1zM650 271h1v1h-1zM697 271h1v1h-1zM650 272h1v1h-1zM697 272h1v1h-1zM650 273h1v1h-1zM697 273h1v1h-1zM650 274h1v1h-1zM697 274h1v1h-1zM650 275h1v1h-1zM697 275h1v1h-1zM650 276h1v1h-1zM697 276h1v1h-1zM650 304h1v1h-1zM697 304h1v1h-1zM650 305h1v1h-1zM697 305h1v1h-1zM650 306h1v1h-1zM697 306h1v1h-1zM650 307h1v1h-1zM697 307h1v1h-1zM650 308h1v1h-1zM697 308h1v1h-1zM650 309h1v1h-1zM697 309h1v1h-1zM650 310h1v1h-1zM697 310h1v1h-1zM650 311h1v1h-1zM697 311h1v1h-1zM650 312h1v1h-1zM697 312h1v1h-1zM650 313h1v1h-1zM697 313h1v1h-1zM650 314h1v1h-1zM697 314h1v1h-1zM650 315h1v1h-1zM697 315h1v1h-1zM650 316h1v1h-1zM697 316h1v1h-1zM650 317h1v1h-1zM697 317h1v1h-1zM650 318h1v1h-1zM697 318h1v1h-1zM650 319h1v1h-1zM697 319h1v1h-1zM650 320h1v1h-1zM697 320h1v1h-1zM650 321h1v1h-1zM697 321h1v1h-1zM650 322h1v1h-1zM697 322h1v1h-1zM650 323h1v1h-1zM697 323h1v1h-1zM650 324h1v1h-1zM697 324h1v1h-1zM650 325h1v1h-1zM697 325h1v1h-1zM650 326h1v1h-1zM697 326h1v1h-1zM650 327h1v1h-1zM697 327h1v1h-1zM650 355h1v1h-1zM697 355h1v1h-1zM650 356h1v1h-1zM697 356h1v1h-1zM650 357h1v1h-1zM697 357h1v1h-1zM650 358h1v1h-1zM697 358h1v1h-1zM650 359h1v1h-1zM697 359h1v1h-1zM650 360h1v1h-1zM697 360h1v1h-1zM650 361h1v1h-1zM697 361h1v1h-1zM650 362h1v1h-1zM697 362h1v1h-1zM650 363h1v1h-1zM697 363h1v1h-1zM650 364h1v1h-1zM697 364h1v1h-1zM650 365h1v1h-1zM697 365h1v1h-1zM650 366h1v1h-1zM697 366h1v1h-1zM650 367h1v1h-1zM697 367h1v1h-1zM650 368h1v1h-1zM697 368h1v1h-1zM650 369h1v1h-1zM697 369h1v1h-1zM650 370h1v1h-1zM697 370h1v1h-1zM650 371h1v1h-1zM697 371h1v1h-1zM650 372h1v1h-1zM697 372h1v1h-1zM650 373h1v1h-1zM697 373h1v1h-1zM650 374h1v1h-1zM697 374h1v1h-1zM650 375h1v1h-1zM697 375h1v1h-1zM650 376h1v1h-1zM697 376h1v1h-1zM650 377h1v1h-1zM697 377h1v1h-1zM650 378h1v1h-1zM697 378h1v1h-1zM650 406h1v1h-1zM697 406h1v1h-1zM650 407h1v1h-1zM697 407h1v1h-1zM650 408h1v1h-1zM697 408h1v1h-1zM650 409h1v1h-1zM697 409h1v1h-1zM650 410h1v1h-1zM697 410h1v1h-1zM650 411h1v1h-1zM697 411h1v1h-1zM650 412h1v1h-1zM697 412h1v1h-1zM650 413h1v1h-1zM697 413h1v1h-1zM650 414h1v1h-1zM697 414h1v1h-1zM650 415h1v1h-1zM697 415h1v1h-1zM650 416h1v1h-1zM697 416h1v1h-1zM650 417h1v1h-1zM697 417h1v1h-1zM650 418h1v1h-1zM697 418h1v1h-1zM650 419h1v1h-1zM697 419h1v1h-1zM650 420h1v1h-1zM697 420h1v1h-1zM650 421h1v1h-1zM697 421h1v1h-1zM650 422h1v1h-1zM697 422h1v1h-1zM650 423h1v1h-1zM697 423h1v1h-1zM650 424h1v1h-1zM697 424h1v1h-1zM650 425h1v1h-1zM697 425h1v1h-1zM650 426h1v1h-1zM697 426h1v1h-1zM650 427h1v1h-1zM697 427h1v1h-1zM650 428h1v1h-1zM697 428h1v1h-1zM650 429h1v1h-1zM697 429h1v1h-1z"/>
<path fill="#f5f1ec" d="M650 251h1v1h-1zM697 251h1v1h-1zM650 277h1v1h-1zM697 277h1v1h-1zM650 303h1v1h-1zM697 303h1v1h-1zM650 328h1v1h-1zM697 328h1v1h-1zM650 354h1v1h-1zM697 354h1v1h-1zM650 379h1v1h-1zM697 379h1v1h-1zM650 405h1v1h-1zM697 405h1v1h-1zM650 430h1v1h-1zM697 430h1v1h-1z"/>
<rect x="651" y="246" width="46" height="210" fill="#5aa5f5"/>
<rect x="652" y="247" width="44" height="209" fill="url(#g)"/>
<path fill="#fcf7f1" d="M763 164h46v1h-46zM762 165h1v1h-1zM809 165h1v1h-1zM762 166h1v1h-1zM809 166h1v1h-1zM762 167h1v1h-1zM809 167h1v1h-1zM762 168h1v1h-1zM809 168h1v1h-1zM762 169h1v1h-1zM809 169h1v1h-1zM762 170h1v1h-1zM809 170h1v1h-1zM762 171h1v1h-1zM809 171h1v1h-1zM762 172h1v1h-1zM809 172h1v1h-1zM762 173h1v1h-1zM809 173h1v1h-1zM762 174h1v1h-1zM809 174h1v1h-1zM762 201h1v1h-1zM809 201h1v1h-1zM762 202h1v1h-1zM809 202h1v1h-1zM762 203h1v1h-1zM809 203h1v1h-1zM762 204h1v1h-1zM809 204h1v1h-1zM762 205h1v1h-1zM809 205h1v1h-1zM762 206h1v1h-1zM809 206h1v1h-1zM762 207h1v1h-1zM809 207h1v1h-1zM762 208h1v1h-1zM809 208h1v1h-1zM762 209h1v1h-1zM809 209h1v1h-1zM762 210h1v1h-1zM809 210h1v1h-1zM762 211h1v1h-1zM809 211h1v1h-1zM762 212h1v1h-1zM809 212h1v1h-1zM762 213h1v1h-1zM809 213h1v1h-1zM762 214h1v1h-1zM809 214h1v1h-1zM762 215h1v1h-1zM809 215h1v1h-1zM762 216h1v1h-1zM809 216h1v1h-1zM762 217h1v1h-1zM809 217h1v1h-1zM762 218h1v1h-1zM809 218h1v1h-1zM762 219h1v1h-1zM809 219h1v1h-1zM762 220h1v1h-1zM809 220h1v1h-1zM762 221h1v1h-1zM809 221h1v1h-1zM762 222h1v1h-1zM809 222h1v1h-1zM762 223h1v1h-1zM809 223h1v1h-1zM762 224h1v1h-1zM809 224h1v1h-1zM762 225h1v1h-1zM809 225h1v1h-1zM762 252h1v1h-1zM809 252h1v1h-1zM762 253h1v1h-1zM809 253h1v1h-1zM762 254h1v1h-1zM809 254h1v1h-1zM762 255h1v1h-1zM809 255h1v1h-1zM762 256h1v1h-1zM809 256h1v1h-1zM762 257h1v1h-1zM809 257h1v1h-1zM762 258h1v1h-1zM809 258h1v1h-1zM762 259h1v1h-1zM809 259h1v1h-1zM762 260h1v1h-1zM809 260h1v1h-1zM762 261h1v1h-1zM809 261h1v1h-1zM762 262h1v1h-1zM809 262h1v1h-1zM762 263h1v1h-1zM809 263h1v1h-1zM762 264h1v1h-1zM809 264h1v1h-1zM762 265h1v1h-1zM809 265h1v1h-1zM762 266h1v1h-1zM809 266h1v1h-1zM762 267h1v1h-1zM809 267h1v1h-1zM762 268h1v1h-1zM809 268h1v1h-1zM762 269h1v1h-1zM809 269h1v1h-1zM762 270h1v1h-1zM809 270h1v1h-1zM762 271h1v1h-1zM809 271h1v1h-1zM762 272h1v1h-1zM809 272h1v1h-1zM762 273h1v1h-1zM809 273h1v1h-1zM762 274h1v1h-1zM809 274h1v1h-1zM762 275h1v1h-1zM809 275h1v1h-1zM762 276h1v1h-1zM809 276h1v1h-1zM762 304h1v1h-1zM809 304h1v1h-1zM762 305h1v1h-1zM809 305h1v1h-1zM762 306h1v1h-1zM809 306h1v1h-1zM762 307h1v1h-1zM809 307h1v1h-1zM762 308h1v1h-1zM809 308h1v1h-1zM762 309h1v1h-1zM809 309h1v1h-1zM762 310h1v1h-1zM809 310h1v1h-1zM762 311h1v1h-1zM809 311h1v1h-1zM762 312h1v1h-1zM809 312h1v1h-1zM762 313h1v1h-1zM809 313h1v1h-1zM762 314h1v1h-1zM809 314h1v1h-1zM762 315h1v1h-1zM809 315h1v1h-1zM762 316h1v1h-1zM809 316h1v1h-1zM762 317h1v1h-1zM809 317h1v1h-1zM762 318h1v1h-1zM809 318h1v1h-1zM762 319h1v1h-1zM809 319h1v1h-1zM762 320h1v1h-1zM809 320h1v1h-1zM762 321h1v1h-1zM809 321h1v1h-1zM762 322h1v1h-1zM809 322h1v1h-1zM762 323h1v1h-1zM809 323h1v1h-1zM762 324h1v1h-1zM809 324h1v1h-1zM762 325h1v1h-1zM809 325h1v1h-1zM762 326h1v1h-1zM809 326h1v1h-1zM762 327h1v1h-1zM809 327h1v1h-1zM762 355h1v1h-1zM809 355h1v1h-1zM762 356h1v1h-1zM809 356h1v1h-1zM762 357h1v1h-1zM809 357h1v1h-1zM762 358h1v1h-1zM809 358h1v1h-1zM762 359h1v1h-1zM809 359h1v1h-1zM762 360h1v1h-1zM809 360h1v1h-1zM762 361h1v1h-1zM809 361h1v1h-1zM762 362h1v1h-1zM809 362h1v1h-1zM762 363h1v1h-1zM809 363h1v1h-1zM762 364h1v1h-1zM809 364h1v1h-1zM762 365h1v1h-1zM809 365h1v1h-1zM762 366h1v1h-1zM809 366h1v1h-1zM762 367h1v1h-1zM809 367h1v1h-1zM762 368h1v1h-1zM809 368h1v1h-1zM762 369h1v1h-1zM809 369h1v1h-1zM762 370h1v1h-1zM809 370h1v1h-1zM762 371h1v1h-1zM809 371h1v1h-1zM762 372h1v1h-1zM809 372h1v1h-1zM762 373h1v1h-1zM809 373h1v1h-1zM762 374h1v1h-1zM809 374h1v1h-1zM762 375h1v1h-1zM809 375h1v1h-1zM762 376h1v1h-1zM809 376h1v1h-1zM762 377h1v1h-1zM809 377h1v1h-1zM762 378h1v1h-1zM809 378h1v1h-1zM762 406h1v1h-1zM809 406h1v1h-1zM762 407h1v1h-1zM809 407h1v1h-1zM762 408h1v1h-1zM809 408h1v1h-1zM762 409h1v1h-1zM809 409h1v1h-1zM762 410h1v1h-1zM809 410h1v1h-1zM762 411h1v1h-1zM809 411h1v1h-1zM762 412h1v1h-1zM809 412h1v1h-1zM762 413h1v1h-1zM809 413h1v1h-1zM762 414h1v1h-1zM809 414h1v1h-1zM762 415h1v1h-1zM809 415h1v1h-1zM762 416h1v1h-1zM809 416h1v1h-1zM762 417h1v1h-1zM809 417h1v1h-1zM762 418h1v1h-1zM809 418h1v1h-1zM762 419h1v1h-1zM809 419h1v1h-1zM762 420h1v1h-1zM809 420h1v1h-1zM762 421h1v1h-1zM809 421h1v1h-1zM762 422h1v1h-1zM809 422h1v1h-1zM762 423h1v1h-1zM809 423h1v1h-1zM762 424h1v1h-1zM809 424h1v1h-1zM762 425h1v1h-1zM809 425h1v1h-1zM762 426h1v1h-1zM809 426h1v1h-1zM762 427h1v1h-1zM809 427h1v1h-1zM762 428h1v1h-1zM809 428h1v1h-1zM762 429h1v1h-1zM809 429h1v1h-1z"/>
<path fill="#f5f1ec" d="M762 175h1v1h-1zM809 175h1v1h-1zM762 200h1v1h-1zM809 200h1v1h-1zM762 226h1v1h-1zM809 226h1v1h-1zM762 251h1v1h-1zM809 251h1v1h-1zM762 277h1v1h-1zM809 277h1v1h-1zM762 303h1v1h-1zM809 303h1v1h-1zM762 328h1v1h-1zM809 328h1v1h-1zM762 354h1v1h-1zM809 354h1v1h-1zM762 379h1v1h-1zM809 379h1v1h-1zM762 405h1v1h-1zM809 405h1v1h-1zM762 430h1v1h-1zM809 430h1v1h-1z"/>
<rect x="763" y="165" width="46" height="291" fill="#5aa5f5"/>
<rect x="764" y="166" width="44" height="290" fill="url(#g)"/>
<path fill="#444" d="M415 8h2v1h-2zM435 8h3v1h-3zM525 8h2v1h-2zM322 9h4v1h-4zM336 9h4v1h-4zM349 9h6v1h-6zM364 9h4v1h-4zM381 9h2v1h-2zM391 9h6v1h-6zM414 9h2v1h-2zM434 9h2v1h-2zM437 9h2v1h-2zM448 9h4v1h-4zM455 9h4v1h-4zM462 9h4v1h-4zM469 9h4v1h-4zM479 9h2v1h-2zM483 9h4v1h-4zM490 9h4v1h-4zM497 9h4v1h-4zM504 9h4v1h-4zM511 9h4v1h-4zM517 9h6v1h-6zM526 9h2v1h-2zM321 10h2v1h-2zM325 10h2v1h-2zM335 10h2v1h-2zM339 10h2v1h-2zM351 10h2v1h-2zM363 10h2v1h-2zM367 10h2v1h-2zM381 10h2v1h-2zM391 10h2v1h-2zM414 10h2v1h-2zM434 10h2v1h-2zM447 10h2v1h-2zM451 10h2v1h-2zM454 10h2v1h-2zM458 10h2v1h-2zM461 10h2v1h-2zM465 10h2v1h-2zM468 10h2v1h-2zM472 10h2v1h-2zM478 10h3v1h-3zM482 10h2v1h-2zM486 10h2v1h-2zM489 10h2v1h-2zM493 10h2v1h-2zM496 10h2v1h-2zM500 10h2v1h-2zM503 10h2v1h-2zM507 10h2v1h-2zM510 10h2v1h-2zM514 10h2v1h-2zM517 10h2v1h-2zM526 10h2v1h-2zM321 11h2v1h-2zM325 11h2v1h-2zM335 11h2v1h-2zM351 11h2v1h-2zM363 11h2v1h-2zM381 11h2v1h-2zM391 11h2v1h-2zM413 11h2v1h-2zM420 11h4v1h-4zM434 11h2v1h-2zM447 11h2v1h-2zM451 11h2v1h-2zM454 11h2v1h-2zM458 11h2v1h-2zM465 11h2v1h-2zM468 11h2v1h-2zM477 11h4v1h-4zM482 11h2v1h-2zM493 11h2v1h-2zM496 11h2v1h-2zM500 11h2v1h-2zM503 11h2v1h-2zM507 11h2v1h-2zM510 11h2v1h-2zM514 11h2v1h-2zM517 11h5v1h-5zM527 11h2v1h-2zM321 12h2v1h-2zM325 12h2v1h-2zM335 12h2v1h-2zM351 12h2v1h-2zM364 12h4v1h-4zM381 12h2v1h-2zM391 12h5v1h-5zM413 12h2v1h-2zM419 12h2v1h-2zM423 12h2v1h-2zM433 12h4v1h-4zM447 12h2v1h-2zM450 12h3v1h-3zM454 12h2v1h-2zM457 12h3v1h-3zM462 12h4v1h-4zM468 12h5v1h-5zM476 12h2v1h-2zM479 12h2v1h-2zM482 12h5v1h-5zM490 12h4v1h-4zM496 12h2v1h-2zM499 12h3v1h-3zM503 12h2v1h-2zM506 12h3v1h-3zM510 12h2v1h-2zM514 12h2v1h-2zM517 12h2v1h-2zM521 12h2v1h-2zM527 12h2v1h-2zM321 13h6v1h-6zM335 13h2v1h-2zM351 13h2v1h-2zM367 13h2v1h-2zM381 13h2v1h-2zM391 13h2v1h-2zM413 13h2v1h-2zM419 13h2v1h-2zM434 13h2v1h-2zM447 13h3v1h-3zM451 13h2v1h-2zM454 13h3v1h-3zM458 13h2v1h-2zM465 13h2v1h-2zM468 13h2v1h-2zM472 13h2v1h-2zM475 13h2v1h-2zM479 13h2v1h-2zM482 13h2v1h-2zM486 13h2v1h-2zM493 13h2v1h-2zM496 13h3v1h-3zM500 13h2v1h-2zM503 13h3v1h-3zM507 13h2v1h-2zM511 13h5v1h-5zM521 13h2v1h-2zM527 13h2v1h-2zM321 14h2v1h-2zM325 14h2v1h-2zM335 14h2v1h-2zM351 14h2v1h-2zM367 14h2v1h-2zM381 14h2v1h-2zM391 14h2v1h-2zM414 14h2v1h-2zM419 14h2v1h-2zM434 14h2v1h-2zM447 14h2v1h-2zM451 14h2v1h-2zM454 14h2v1h-2zM458 14h2v1h-2zM465 14h2v1h-2zM468 14h2v1h-2zM472 14h2v1h-2zM475 14h6v1h-6zM482 14h2v1h-2zM486 14h2v1h-2zM493 14h2v1h-2zM496 14h2v1h-2zM500 14h2v1h-2zM503 14h2v1h-2zM507 14h2v1h-2zM514 14h2v1h-2zM521 14h2v1h-2zM526 14h2v1h-2zM321 15h2v1h-2zM325 15h2v1h-2zM330 15h2v1h-2zM335 15h2v1h-2zM339 15h2v1h-2zM344 15h2v1h-2zM351 15h2v1h-2zM358 15h2v1h-2zM363 15h2v1h-2zM367 15h2v1h-2zM372 15h2v1h-2zM377 15h2v1h-2zM381 15h2v1h-2zM386 15h2v1h-2zM391 15h2v1h-2zM400 15h2v1h-2zM414 15h2v1h-2zM419 15h2v1h-2zM423 15h2v1h-2zM428 15h2v1h-2zM434 15h2v1h-2zM442 15h2v1h-2zM447 15h2v1h-2zM451 15h2v1h-2zM454 15h2v1h-2zM458 15h2v1h-2zM461 15h2v1h-2zM465 15h2v1h-2zM468 15h2v1h-2zM472 15h2v1h-2zM479 15h2v1h-2zM482 15h2v1h-2zM486 15h2v1h-2zM489 15h2v1h-2zM493 15h2v1h-2zM496 15h2v1h-2zM500 15h2v1h-2zM503 15h2v1h-2zM507 15h2v1h-2zM510 15h2v1h-2zM514 15h2v1h-2zM517 15h2v1h-2zM521 15h2v1h-2zM526 15h2v1h-2zM321 16h2v1h-2zM325 16h2v1h-2zM329 16h4v1h-4zM336 16h4v1h-4zM343 16h4v1h-4zM349 16h6v1h-6zM357 16h4v1h-4zM364 16h4v1h-4zM371 16h4v1h-4zM378 16h4v1h-4zM385 16h4v1h-4zM391 16h2v1h-2zM399 16h4v1h-4zM415 16h2v1h-2zM420 16h4v1h-4zM427 16h4v1h-4zM434 16h2v1h-2zM441 16h4v1h-4zM448 16h4v1h-4zM455 16h4v1h-4zM462 16h4v1h-4zM469 16h4v1h-4zM479 16h2v1h-2zM483 16h4v1h-4zM490 16h4v1h-4zM497 16h4v1h-4zM504 16h4v1h-4zM511 16h4v1h-4zM518 16h4v1h-4zM525 16h2v1h-2zM330 17h2v1h-2zM344 17h2v1h-2zM358 17h2v1h-2zM372 17h2v1h-2zM386 17h2v1h-2zM400 17h2v1h-2zM428 17h2v1h-2zM442 17h2v1h-2z"/>
<path fill="#444" d="M379 28h1v1h-1zM384 28h1v1h-1zM435 28h6v1h-6zM445 28h1v1h-1zM379 29h2v1h-2zM384 29h1v1h-1zM435 29h1v1h-1zM445 29h1v1h-1zM379 30h2v1h-2zM384 30h1v1h-1zM435 30h1v1h-1zM379 31h1v1h-1zM381 31h1v1h-1zM384 31h1v1h-1zM387 31h1v1h-1zM392 31h1v1h-1zM394 31h3v1h-3zM398 31h2v1h-2zM404 31h4v1h-4zM411 31h1v1h-1zM413 31h3v1h-3zM420 31h4v1h-4zM435 31h1v1h-1zM444 31h2v1h-2zM451 31h1v1h-1zM453 31h3v1h-3zM458 31h3v1h-3zM462 31h2v1h-2zM468 31h4v1h-4zM379 32h1v1h-1zM381 32h1v1h-1zM384 32h1v1h-1zM387 32h1v1h-1zM392 32h1v1h-1zM394 32h1v1h-1zM397 32h1v1h-1zM400 32h1v1h-1zM403 32h1v1h-1zM408 32h1v1h-1zM411 32h2v1h-2zM416 32h1v1h-1zM419 32h1v1h-1zM424 32h1v1h-1zM435 32h5v1h-5zM445 32h1v1h-1zM451 32h2v1h-2zM456 32h1v1h-1zM458 32h1v1h-1zM461 32h1v1h-1zM464 32h1v1h-1zM467 32h1v1h-1zM472 32h1v1h-1zM379 33h1v1h-1zM382 33h1v1h-1zM384 33h1v1h-1zM387 33h1v1h-1zM392 33h1v1h-1zM394 33h1v1h-1zM397 33h1v1h-1zM400 33h1v1h-1zM403 33h1v1h-1zM408 33h1v1h-1zM411 33h1v1h-1zM419 33h1v1h-1zM424 33h1v1h-1zM435 33h1v1h-1zM445 33h1v1h-1zM451 33h1v1h-1zM458 33h1v1h-1zM461 33h1v1h-1zM464 33h1v1h-1zM467 33h1v1h-1zM472 33h1v1h-1zM379 34h1v1h-1zM382 34h1v1h-1zM384 34h1v1h-1zM387 34h1v1h-1zM392 34h1v1h-1zM394 34h1v1h-1zM397 34h1v1h-1zM400 34h1v1h-1zM403 34h6v1h-6zM411 34h1v1h-1zM419 34h1v1h-1zM424 34h1v1h-1zM435 34h1v1h-1zM445 34h1v1h-1zM451 34h1v1h-1zM458 34h1v1h-1zM461 34h1v1h-1zM464 34h1v1h-1zM467 34h6v1h-6zM379 35h1v1h-1zM383 35h2v1h-2zM387 35h1v1h-1zM392 35h1v1h-1zM394 35h1v1h-1zM397 35h1v1h-1zM400 35h1v1h-1zM403 35h1v1h-1zM411 35h1v1h-1zM419 35h1v1h-1zM424 35h1v1h-1zM435 35h1v1h-1zM445 35h1v1h-1zM451 35h1v1h-1zM458 35h1v1h-1zM461 35h1v1h-1zM464 35h1v1h-1zM467 35h1v1h-1zM379 36h1v1h-1zM383 36h2v1h-2zM387 36h1v1h-1zM391 36h2v1h-2zM394 36h1v1h-1zM397 36h1v1h-1zM400 36h1v1h-1zM403 36h1v1h-1zM411 36h1v1h-1zM419 36h1v1h-1zM424 36h1v1h-1zM435 36h1v1h-1zM445 36h1v1h-1zM451 36h1v1h-1zM458 36h1v1h-1zM461 36h1v1h-1zM464 36h1v1h-1zM467 36h1v1h-1zM379 37h1v1h-1zM384 37h1v1h-1zM388 37h3v1h-3zM392 37h1v1h-1zM394 37h1v1h-1zM397 37h1v1h-1zM400 37h1v1h-1zM404 37h4v1h-4zM411 37h1v1h-1zM420 37h4v1h-4zM435 37h1v1h-1zM443 37h5v1h-5zM451 37h1v1h-1zM458 37h1v1h-1zM461 37h1v1h-1zM464 37h1v1h-1zM468 37h4v1h-4z"/>
<path fill="#ffffff" opacity="0.7" d="M110 37h14v1h-14zM110 38h15v1h-15zM110 39h15v1h-15zM113 40h12v1h-12zM112 41h13v1h-13zM112 42h13v1h-13zM111 43h5v1h-5zM117 43h8v1h-8zM111 44h5v1h-5zM117 44h8v1h-8zM111 45h4v1h-4zM117 45h8v1h-8zM111 46h4v1h-4zM118 46h6v1h-6z"/>
<path fill="#000080" d="M111 38h6v1h-6zM119 38h4v1h-4zM115 39h2v1h-2zM118 39h2v1h-2zM122 39h2v1h-2zM114 40h2v1h-2zM118 40h2v1h-2zM122 40h2v1h-2zM114 41h2v1h-2zM118 41h2v1h-2zM122 41h2v1h-2zM113 42h2v1h-2zM119 42h5v1h-5zM113 43h2v1h-2zM122 43h2v1h-2zM112 44h2v1h-2zM118 44h2v1h-2zM122 44h2v1h-2zM112 45h2v1h-2zM119 45h4v1h-4z"/>
<path fill="#ffffff" opacity="0.7" d="M222 124h6v1h-6zM229 124h6v1h-6zM221 125h15v1h-15zM221 126h15v1h-15zM221 127h15v1h-15zM221 128h15v1h-15zM221 129h15v1h-15zM221 130h14v1h-14zM221 131h15v1h-15zM221 132h15v1h-15zM222 133h14v1h-14z"/>
<path fill="#000080" d="M223 125h4v1h-4zM230 125h4v1h-4zM222 126h2v1h-2zM226 126h2v1h-2zM229 126h2v1h-2zM233 126h2v1h-2zM222 127h2v1h-2zM229 127h2v1h-2zM233 127h2v1h-2zM222 128h5v1h-5zM233 128h2v1h-2zM222 129h2v1h-2zM226 129h2v1h-2zM231 129h3v1h-3zM222 130h2v1h-2zM226 130h2v1h-2zM230 130h2v1h-2zM222 131h2v1h-2zM226 131h2v1h-2zM229 131h2v1h-2zM223 132h4v1h-4zM229 132h6v1h-6z"/>
<path fill="#ffffff" opacity="0.7" d="M333 175h14v1h-14zM333 176h15v1h-15zM333 177h15v1h-15zM333 178h15v1h-15zM333 179h15v1h-15zM333 180h15v1h-15zM333 181h14v1h-14zM333 182h15v1h-15zM333 183h15v1h-15zM334 184h14v1h-14z"/>
<path fill="#000080" d="M334 176h6v1h-6zM342 176h4v1h-4zM334 177h2v1h-2zM341 177h2v1h-2zM345 177h2v1h-2zM334 178h5v1h-5zM341 178h2v1h-2zM345 178h2v1h-2zM334 179h2v1h-2zM338 179h2v1h-2zM345 179h2v1h-2zM338 180h2v1h-2zM343 180h3v1h-3zM338 181h2v1h-2zM342 181h2v1h-2zM334 182h2v1h-2zM338 182h2v1h-2zM341 182h2v1h-2zM335 183h4v1h-4zM341 183h6v1h-6z"/>
<path fill="#ffffff" opacity="0.7" d="M448 236h10v1h-10zM447 237h12v1h-12zM446 238h13v1h-13zM445 239h14v1h-14zM444 240h15v1h-15zM444 241h15v1h-15zM444 242h15v1h-15zM444 243h15v1h-15zM448 244h11v1h-11zM448 245h10v1h-10z"/>
<path fill="#000080" d="M449 237h2v1h-2zM453 237h4v1h-4zM448 238h3v1h-3zM452 238h2v1h-2zM456 238h2v1h-2zM447 239h4v1h-4zM452 239h2v1h-2zM456 239h2v1h-2zM446 240h2v1h-2zM449 240h2v1h-2zM452 240h2v1h-2zM455 240h3v1h-3zM445 241h2v1h-2zM449 241h2v1h-2zM452 241h3v1h-3zM456 241h2v1h-2zM445 242h6v1h-6zM452 242h2v1h-2zM456 242h2v1h-2zM449 243h2v1h-2zM452 243h2v1h-2zM456 243h2v1h-2zM449 244h2v1h-2zM453 244h4v1h-4z"/>
<path fill="#ffffff" opacity="0.7" d="M557 267h6v1h-6zM567 267h4v1h-4zM556 268h8v1h-8zM566 268h5v1h-5zM556 269h8v1h-8zM565 269h6v1h-6zM556 270h15v1h-15zM557 271h14v1h-14zM557 272h14v1h-14zM556 273h15v1h-15zM556 274h15v1h-15zM556 275h8v1h-8zM567 275h4v1h-4zM557 276h6v1h-6zM567 276h4v1h-4z"/>
<path fill="#000080" d="M558 268h4v1h-4zM568 268h2v1h-2zM557 269h2v1h-2zM561 269h2v1h-2zM567 269h3v1h-3zM561 270h2v1h-2zM566 270h4v1h-4zM558 271h4v1h-4zM565 271h2v1h-2zM568 271h2v1h-2zM561 272h2v1h-2zM564 272h2v1h-2zM568 272h2v1h-2zM561 273h2v1h-2zM564 273h6v1h-6zM557 274h2v1h-2zM561 274h2v1h-2zM568 274h2v1h-2zM558 275h4v1h-4zM568 275h2v1h-2z"/>
<path fill="#ffffff" opacity="0.7" d="M671 231h4v1h-4zM676 231h4v1h-4zM670 232h10v1h-10zM669 233h11v1h-11zM668 234h12v1h-12zM667 235h13v1h-13zM667 236h8v1h-8zM676 236h4v1h-4zM667 237h8v1h-8zM676 237h4v1h-4zM667 238h15v1h-15zM671 239h11v1h-11zM671 240h11v1h-11z"/>
<path fill="#000080" d="M672 232h2v1h-2zM677 232h2v1h-2zM671 233h3v1h-3zM676 233h3v1h-3zM670 234h4v1h-4zM675 234h1v1h-1zM677 234h2v1h-2zM669 235h2v1h-2zM672 235h2v1h-2zM677 235h2v1h-2zM668 236h2v1h-2zM672 236h2v1h-2zM677 236h2v1h-2zM668 237h6v1h-6zM677 237h2v1h-2zM672 238h2v1h-2zM677 238h2v1h-2zM672 239h2v1h-2zM675 239h6v1h-6z"/>
<path fill="#ffffff" opacity="0.7" d="M779 150h15v1h-15zM779 151h15v1h-15zM779 152h15v1h-15zM779 153h8v1h-8zM789 153h5v1h-5zM779 154h8v1h-8zM788 154h5v1h-5zM779 155h8v1h-8zM788 155h5v1h-5zM779 156h13v1h-13zM779 157h13v1h-13zM779 158h12v1h-12zM780 159h6v1h-6zM787 159h4v1h-4z"/>
<path fill="#000080" d="M780 151h6v1h-6zM787 151h6v1h-6zM780 152h2v1h-2zM791 152h2v1h-2zM780 153h5v1h-5zM790 153h2v1h-2zM780 154h2v1h-2zM784 154h2v1h-2zM790 154h2v1h-2zM784 155h2v1h-2zM789 155h2v1h-2zM784 156h2v1h-2zM789 156h2v1h-2zM780 157h2v1h-2zM784 157h2v1h-2zM788 157h2v1h-2zM781 158h4v1h-4zM788 158h2v1h-2z"/>
<path fill="#444" d="M28 236h2v1h-2zM31 236h1v1h-1zM27 237h3v1h-3zM31 237h2v1h-2zM27 238h1v1h-1zM29 238h1v1h-1zM32 238h1v1h-1zM27 239h1v1h-1zM29 239h1v1h-1zM32 239h1v1h-1zM27 240h6v1h-6zM28 241h4v1h-4zM28 243h5v1h-5zM27 244h6v1h-6zM27 245h3v1h-3zM28 246h2v1h-2zM27 247h6v1h-6zM27 248h6v1h-6zM28 250h1v1h-1zM27 251h2v1h-2zM27 252h1v1h-1zM27 253h1v1h-1zM27 254h6v1h-6zM27 255h6v1h-6zM32 257h1v1h-1zM32 258h1v1h-1zM24 259h2v1h-2zM27 259h6v1h-6zM24 260h2v1h-2zM27 260h6v1h-6zM27 261h1v1h-1zM32 261h1v1h-1zM32 262h1v1h-1zM25 264h1v1h-1zM25 265h1v1h-1zM28 265h1v1h-1zM25 266h1v1h-1zM28 266h1v1h-1zM25 267h1v1h-1zM28 267h1v1h-1zM25 268h8v1h-8zM25 269h8v1h-8z"/>
<path fill="#444" d="M813 486h4v1h-4zM812 487h2v1h-2zM816 487h2v1h-2zM812 488h2v1h-2zM816 488h2v1h-2zM819 488h5v1h-5zM826 488h5v1h-5zM834 488h4v1h-4zM812 489h2v1h-2zM816 489h2v1h-2zM819 489h2v1h-2zM823 489h2v1h-2zM826 489h2v1h-2zM830 489h2v1h-2zM833 489h2v1h-2zM837 489h2v1h-2zM812 490h6v1h-6zM819 490h2v1h-2zM823 490h2v1h-2zM826 490h2v1h-2zM830 490h2v1h-2zM833 490h2v1h-2zM837 490h2v1h-2zM812 491h2v1h-2zM816 491h2v1h-2zM819 491h2v1h-2zM823 491h2v1h-2zM826 491h2v1h-2zM830 491h2v1h-2zM833 491h2v1h-2zM837 491h2v1h-2zM812 492h2v1h-2zM816 492h2v1h-2zM819 492h2v1h-2zM823 492h2v1h-2zM826 492h2v1h-2zM830 492h2v1h-2zM833 492h2v1h-2zM837 492h2v1h-2zM812 493h2v1h-2zM816 493h2v1h-2zM819 493h2v1h-2zM823 493h2v1h-2zM826 493h2v1h-2zM830 493h2v1h-2zM834 493h4v1h-4z"/>
</svg>
<div class="t sans" style="right:798.8px;top:451px;font-size:11.5px;letter-spacing:0.6px;">0</div>
<div class="t sans" style="right:798.8px;top:425px;font-size:11.5px;letter-spacing:0.6px;">5</div>
<div class="t sans" style="right:798.8px;top:400px;font-size:11.5px;letter-spacing:0.6px;">10</div>
<div class="t sans" style="right:798.8px;top:374px;font-size:11.5px;letter-spacing:0.6px;">15</div>
<div class="t sans" style="right:798.8px;top:349px;font-size:11.5px;letter-spacing:0.6px;">20</div>
<div class="t sans" style="right:798.8px;top:323px;font-size:11.5px;letter-spacing:0.6px;">25</div>
<div class="t sans" style="right:798.8px;top:298px;font-size:11.5px;letter-spacing:0.6px;">30</div>
<div class="t sans" style="right:798.8px;top:272px;font-size:11.5px;letter-spacing:0.6px;">35</div>
<div class="t sans" style="right:798.8px;top:246px;font-size:11.5px;letter-spacing:0.6px;">40</div>
<div class="t sans" style="right:798.8px;top:221px;font-size:11.5px;letter-spacing:0.6px;">45</div>
<div class="t sans" style="right:798.8px;top:195px;font-size:11.5px;letter-spacing:0.6px;">50</div>
<div class="t sans" style="right:798.8px;top:170px;font-size:11.5px;letter-spacing:0.6px;">55</div>
<div class="t sans" style="right:798.8px;top:144px;font-size:11.5px;letter-spacing:0.6px;">60</div>
<div class="t sans" style="right:798.8px;top:119px;font-size:11.5px;letter-spacing:0.6px;">65</div>
<div class="t sans" style="right:798.8px;top:93px;font-size:11.5px;letter-spacing:0.6px;">70</div>
<div class="t sans" style="right:798.8px;top:68px;font-size:11.5px;letter-spacing:0.6px;">75</div>
<div class="t sans" style="right:798.8px;top:42px;font-size:11.5px;letter-spacing:0.6px;">80</div>
<div class="t sans" style="left:95.7px;top:476px;width:40px;height:12px;line-height:12px;text-align:center;font-size:11.5px;letter-spacing:0.6px;transform:rotate(-90deg);transform-origin:50% 50%;">2006</div>
<div class="t sans" style="left:206.7px;top:476px;width:40px;height:12px;line-height:12px;text-align:center;font-size:11.5px;letter-spacing:0.6px;transform:rotate(-90deg);transform-origin:50% 50%;">2007</div>
<div class="t sans" style="left:318.7px;top:476px;width:40px;height:12px;line-height:12px;text-align:center;font-size:11.5px;letter-spacing:0.6px;transform:rotate(-90deg);transform-origin:50% 50%;">2008</div>
<div class="t sans" style="left:429.7px;top:476px;width:40px;height:12px;line-height:12px;text-align:center;font-size:11.5px;letter-spacing:0.6px;transform:rotate(-90deg);transform-origin:50% 50%;">2009</div>
<div class="t sans" style="left:540.7px;top:476px;width:40px;height:12px;line-height:12px;text-align:center;font-size:11.5px;letter-spacing:0.6px;transform:rotate(-90deg);transform-origin:50% 50%;">2010</div>
<div class="t sans" style="left:652.7px;top:475px;width:40px;height:12px;line-height:12px;text-align:center;font-size:11.5px;letter-spacing:0.6px;transform:rotate(-90deg);transform-origin:50% 50%;">2011</div>
<div class="t sans" style="left:763.7px;top:475px;width:40px;height:12px;line-height:12px;text-align:center;font-size:11.5px;letter-spacing:0.6px;transform:rotate(-90deg);transform-origin:50% 50%;">2012</div>
</body></html>
